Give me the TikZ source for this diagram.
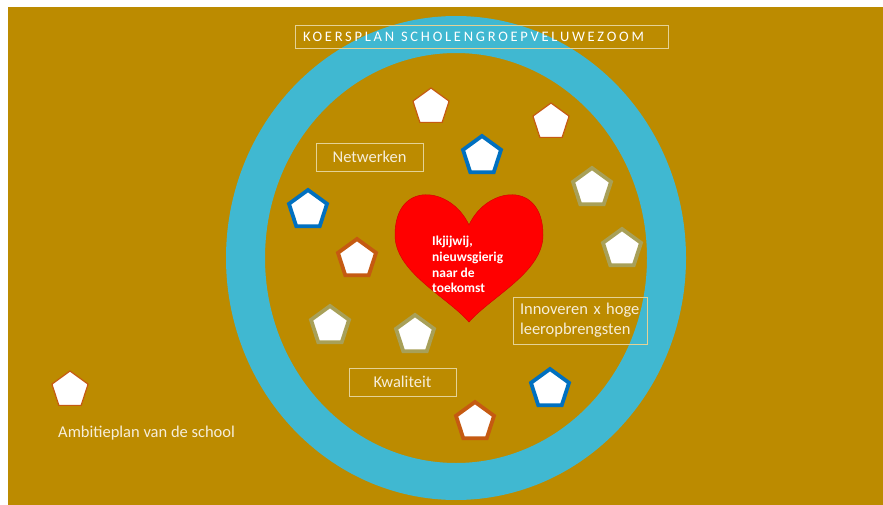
\documentclass[tikz,border=0pt]{standalone}
\usepackage{fontspec}
\setmainfont{Carlito}
\newfontfamily\titlefont[LetterSpace=19]{Carlito}
\usetikzlibrary{shapes.geometric}

\definecolor{slidegold}{RGB}{188,139,0}
\definecolor{ringblue}{RGB}{64,184,209}
\definecolor{heartred}{RGB}{255,0,0}
\definecolor{orangeedge}{RGB}{197,90,17}
\definecolor{blueedge}{RGB}{0,112,192}
\definecolor{oliveedge}{RGB}{168,160,88}
\definecolor{boxline}{RGB}{228,210,150}
\definecolor{cream}{RGB}{246,238,218}

\tikzset{
  penta/.style={regular polygon, regular polygon sides=5, inner sep=0pt,
    fill=white, minimum size=40pt},
  thinpenta/.style={penta, draw=orangeedge, line width=1.2pt, minimum size=38pt},
  orangepenta/.style={penta, draw=orangeedge, line width=3.8pt},
  bluepenta/.style={penta, draw=blueedge, line width=3.8pt},
  olivepenta/.style={penta, draw=oliveedge, line width=3.8pt},
  labelbox/.style={draw=boxline, line width=0.9pt, text=cream,
    font=\fontsize{16.5}{20}\selectfont, minimum height=28pt},
}

\begin{document}
\begin{tikzpicture}[x=1pt, y=-1pt]
  \useasboundingbox (0,0) rectangle (883,505);
  \fill[slidegold] (8,7) rectangle (883,505);

  % ring
  \fill[ringblue, even odd rule]
    (456,258) ellipse [x radius=230, y radius=242]
    (456,258) ellipse [x radius=191, y radius=205];

  \node[draw=boxline, line width=0.9pt, text=white, align=left,
    text width=357pt, inner xsep=8pt, minimum height=23pt,
    font=\titlefont\fontsize{14.5}{16}\selectfont] (title) at (481.5,36.5)
    {KOERSPLAN\hspace{2pt} SCHOLENGROEPVELUWEZOOM};

  % heart
  \fill[heartred, draw=heartred!85!black, line width=0.5pt]
    (469,225) .. controls (487,186) and (543,180) .. (543,235)
    .. controls (543,272) and (492,296) .. (469,322)
    .. controls (446,296) and (395,272) .. (395,235)
    .. controls (395,180) and (451,186) .. (469,225) -- cycle;
  \node[anchor=west, inner sep=0pt, align=left, text=white,
    font=\fontsize{13.5}{15.7}\selectfont\bfseries] (motto) at (432,264.5)
    {Ikjijwij,\\nieuwsgierig\\naar de\\toekomst};

  % labels
  \node[labelbox, minimum width=107pt] (netwerken) at (369.5,157) {Netwerken};
  \node[labelbox, minimum width=107pt] (kwaliteit) at (402.5,382) {Kwaliteit};
  \node[labelbox, align=left, text width=120pt, inner xsep=7pt,
    minimum height=47pt] (innoveren) at (580,320.5)
    {Innoveren x hoge\\leeropbrengsten};
  \node[anchor=west, inner sep=0pt, text=cream,
    font=\fontsize{16.5}{20}\selectfont] (ambitie) at (58,433)
    {Ambitieplan van de school};

  % pentagons
  \node[thinpenta] (schoolplan) at (70,390) {};
  \node[thinpenta] (oranje1) at (431,107) {};
  \node[thinpenta] (oranje2) at (551,122) {};
  \node[orangepenta] (oranje3) at (357,259) {};
  \node[orangepenta] (oranje4) at (475,422) {};
  \node[bluepenta] (blauw1) at (482,156) {};
  \node[bluepenta] (blauw2) at (308,210) {};
  \node[bluepenta] (blauw3) at (550,389) {};
  \node[olivepenta] (olijf1) at (592,188) {};
  \node[olivepenta] (olijf2) at (622,249) {};
  \node[olivepenta] (olijf3) at (330,326) {};
  \node[olivepenta] (olijf4) at (415,335) {};
\end{tikzpicture}
\end{document}
